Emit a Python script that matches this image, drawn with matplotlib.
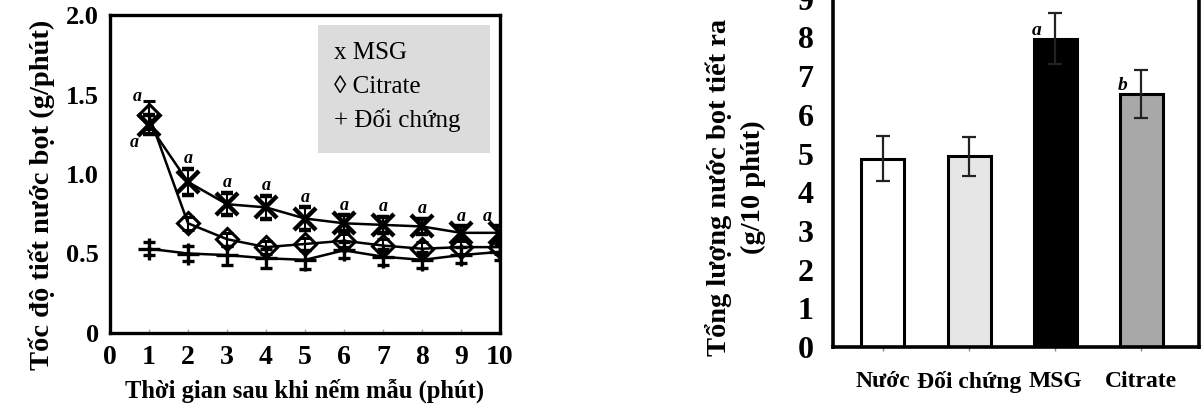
import matplotlib
matplotlib.use('Agg')
import matplotlib.pyplot as plt
import numpy as np

plt.rcParams['font.family'] = ['Liberation Serif', 'DejaVu Serif']

# Left panel: salivation rate per minute
minutes = [1, 2, 3, 4, 5, 6, 7, 8, 9, 10]
msg = [1.31, 0.95, 0.81, 0.79, 0.72, 0.69, 0.68, 0.67, 0.63, 0.63]
msg_err = [0.06, 0.08, 0.07, 0.07, 0.07, 0.05, 0.05, 0.05, 0.04, 0.04]
citrate = [1.37, 0.69, 0.59, 0.54, 0.56, 0.58, 0.55, 0.53, 0.54, 0.54]
citrate_err = [0.09, 0.04, 0.04, 0.04, 0.04, 0.04, 0.04, 0.04, 0.04, 0.04]
control = [0.53, 0.50, 0.49, 0.47, 0.46, 0.52, 0.48, 0.46, 0.49, 0.51]
control_err = [0.04, 0.05, 0.06, 0.06, 0.06, 0.05, 0.05, 0.05, 0.05, 0.05]
sig_letters = ['a'] * 10
legend_lines = ['x MSG', '◊ Citrate', '+ Đối chứng']

# Right panel: total saliva over 10 minutes
groups = ['Nước', 'Đối chứng', 'MSG', 'Citrate']
totals = [4.87, 4.93, 7.97, 6.54]
totals_err = [0.57, 0.50, 0.66, 0.63]
bar_letters = ['', '', 'a', 'b']
bar_colors = ['white', '#e6e6e6', 'black', '#a8a8a8']

fig = plt.figure(figsize=(12.04, 4.08), dpi=100)

# ---- line chart ----
ax1 = fig.add_axes([110 / 1204, 75 / 408, 390 / 1204, 318 / 408])
ax1.errorbar(minutes, control, yerr=control_err, color='black', lw=1.8,
             marker='+', ms=16, mew=2.4, capsize=4, elinewidth=1.5, capthick=1.5)
ax1.errorbar(minutes, citrate, yerr=citrate_err, color='black', lw=1.8,
             marker='D', ms=11, mew=2.2, mfc='none', capsize=4, elinewidth=1.5, capthick=1.5)
ax1.errorbar(minutes, msg, yerr=msg_err, color='black', lw=1.8,
             marker='x', ms=16, mew=3.2, capsize=4, elinewidth=1.5, capthick=1.5)

# significance letters above the MSG points
for i, (x, y, e) in enumerate(zip(minutes, msg, msg_err)):
    if i == 0:
        ax1.text(x - 0.3, citrate[0] + citrate_err[0] + 0.03, sig_letters[i],
                 ha='center', va='center', fontsize=13, style='italic', weight='bold')
        ax1.text(x - 0.38, y - 0.11, sig_letters[i],
                 ha='center', va='center', fontsize=13, style='italic', weight='bold')
        continue
    xs = x - 0.33 if i == len(minutes) - 1 else x
    ax1.text(xs, y + e + 0.065, sig_letters[i], ha='center', va='center',
             fontsize=13, style='italic', weight='bold')

ax1.set_xlim(0, 10)
ax1.set_ylim(0, 2.0)
ax1.set_xticks(range(0, 11))
ax1.set_yticks([0, 0.5, 1.0, 1.5, 2.0])
ax1.set_yticklabels(['0', '0.5', '1.0', '1.5', '2.0'])
ax1.tick_params(axis='x', direction='in', length=3, width=1, color='#aaaaaa',
                labelsize=20, pad=9)
ax1.tick_params(axis='y', length=0, labelsize=19, pad=8)
for lab in ax1.get_xticklabels() + ax1.get_yticklabels():
    lab.set_fontweight('bold')
for sp in ax1.spines.values():
    sp.set_linewidth(2.4)
ax1.set_xlabel('Thời gian sau khi nếm mẫu (phút)', fontsize=17.7, weight='bold', labelpad=6)
ax1.set_ylabel('Tốc độ tiết nước bọt (g/phút)', fontsize=20.5, weight='bold')
ax1.yaxis.set_label_coords(-0.14, 0.434)

# legend drawn as a gray box with marker characters
ax1.add_patch(plt.Rectangle((5.33, 1.13), 4.41, 0.81, facecolor='#dcdcdc',
                            edgecolor='none', zorder=0))
for k, txt in enumerate(legend_lines):
    ax1.text(5.75, 1.76 - k * 0.21, txt, fontsize=18, va='center', ha='left')

# ---- bar chart ----
ax2 = fig.add_axes([833 / 1204, 61 / 408, 366 / 1204, 387 / 408])
pos = np.arange(len(groups))
ax2.bar(pos, totals, width=0.5, color=bar_colors, edgecolor='black', linewidth=2.2)
ax2.errorbar(pos, totals, yerr=totals_err, fmt='none', ecolor='#222222',
             elinewidth=1.6, capsize=5, capthick=1.6)
for x, y, e, t in zip(pos, totals, totals_err, bar_letters):
    if t:
        ax2.text(x - 0.22, y + 0.22, t, ha='center', va='center', fontsize=14,
                 style='italic', weight='bold')

ax2.set_xlim(-0.58, 3.67)
ax2.set_ylim(0, 10)
ax2.set_xticks(pos)
ax2.set_xticklabels(groups)
ax2.set_yticks(range(0, 11))
ax2.tick_params(axis='x', length=3, width=1, color='#888888', labelsize=17, pad=14)
ax2.tick_params(axis='y', length=0, labelsize=23, pad=14)
for lab in ax2.get_xticklabels() + ax2.get_yticklabels():
    lab.set_fontweight('bold')
for sp in ['left', 'bottom', 'right']:
    ax2.spines[sp].set_linewidth(2.6)
ax2.spines['top'].set_visible(False)
ax2.set_ylabel('Tổng lượng nước bọt tiết ra\n(g/10 phút)', fontsize=20.5,
               weight='bold', linespacing=1.45)
ax2.yaxis.set_label_coords(-0.183, 0.413)

fig.savefig('out.png', dpi=100)
